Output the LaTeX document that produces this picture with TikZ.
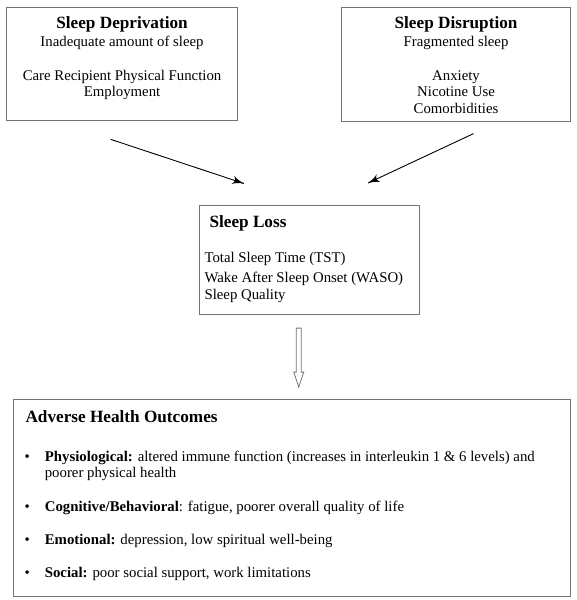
\documentclass[tikz,border=0pt]{standalone}
\usepackage{fontspec}
\setmainfont{Liberation Serif}
\usetikzlibrary{arrows}
\usetikzlibrary{decorations.markings}
\definecolor{boxgray}{gray}{0.45}
\tikzset{box/.style = {draw=boxgray, line width=1.1pt, inner sep=0pt, anchor=north west,
                       font=\fontsize{14.8}{16.7}\selectfont},
         flow/.style = {line width=0.9pt,
                        decoration={markings,
                                    mark=at position 1 with {\arrow[scale=2.1]{latex'}}},
                        postaction={decorate}},
         hollow/.style = {draw=boxgray, line width=0.8pt}}
\newcommand{\boxtitle}[1]{{\fontsize{17.2}{16.7}\selectfont\bfseries #1}}
\newcommand{\outcome}[2]{\hangindent=31pt\hangafter=1\noindent\hspace*{10.8pt}%
  \makebox[20.2pt][l]{\textbullet}\textbf{#1}#2\par}

\begin{document}
\begin{tikzpicture}[x=1pt, y=-1pt]
    \useasboundingbox (0, 0) rectangle (577, 600);
    \node [box] (depriv) at (6, 7) {\parbox[c][113pt][t]{231pt}{\centering\vspace*{9.4pt}
      \boxtitle{Sleep Deprivation}\\[1.3pt]
      Inadequate amount of sleep\\[16.6pt]
      Care Recipient Physical Function\\
      Employment}};
    \node [box] (disrupt) at (341, 7) {\parbox[c][113.5pt][t]{229pt}{\centering\vspace*{9.4pt}
      \boxtitle{Sleep Disruption}\\[1.3pt]
      Fragmented sleep\\[16.6pt]
      Anxiety\\
      Nicotine Use\\
      Comorbidities}};
    \node [box] (loss) at (199, 205) {\parbox[c][109pt][t]{220pt}{\raggedright\leftskip=5pt\vspace*{9.7pt}
      \hspace*{5pt}\boxtitle{Sleep Loss}\\[18.3pt]
      Total Sleep Time (TST)\\[3.3pt]
      Wake After Sleep Onset (WASO)\\[0.6pt]
      Sleep Quality}};
    \node [box] (outcomes) at (13.3, 399.3) {\parbox[c][196.5pt][t]{556.7pt}{\raggedright\vspace*{11.1pt}
      \hspace*{11.7pt}\boxtitle{Adverse Health Outcomes}\par\vspace{21.6pt}
      \outcome{Physiological:}{ altered immune function (increases in interleukin 1 \& 6 levels) and\newline poorer physical health}
      \vspace{16.6pt}
      \outcome{Cognitive/Behavioral}{: fatigue, poorer overall quality of life}
      \vspace{16.6pt}
      \outcome{Emotional:}{ depression, low spiritual well-being}
      \vspace{16.6pt}
      \outcome{Social:}{ poor social support, work limitations}}};
    \draw [flow] ([shift={(-11.2, 18.3)}]depriv.south) -- ([shift={(-65.7, -21.5)}]loss.north);
    \draw [flow] ([shift={(17.5, 12)}]disrupt.south) -- ([shift={(58.5, -22)}]loss.north);
    \draw [hollow] ([shift={(-13.3, 13)}]loss.south) -- ++(5, 0) -- ++(0, 44) -- ++(2.5, 0)
      -- ++(-5, 15) -- ++(-5, -15) -- ++(2.5, 0) -- cycle;
\end{tikzpicture}
\end{document}
